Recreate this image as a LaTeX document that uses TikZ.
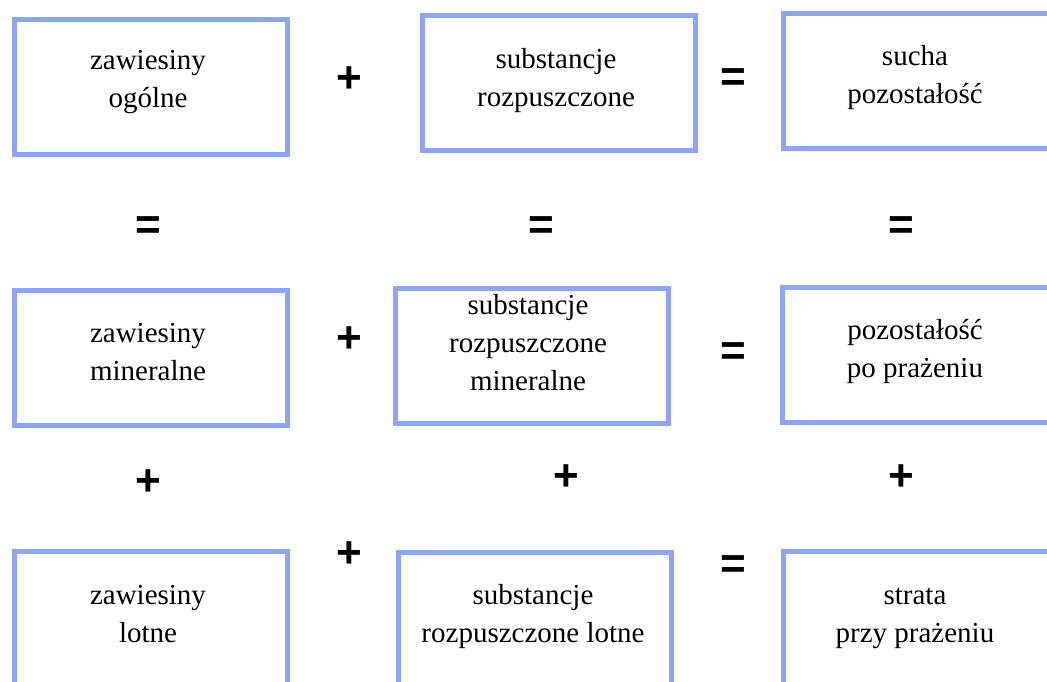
\documentclass[tikz,border=0pt]{standalone}
\usepackage{fontspec}
\setmainfont{Liberation Serif}
\newfontfamily\opfont{Liberation Sans}
\definecolor{ramka}{RGB}{140,165,245}
\tikzset{
  ramka/.style={draw=ramka, line width=5pt, anchor=north west, inner sep=0pt,
                minimum width=273pt, minimum height=135pt},
  opis/.style={align=center, anchor=base, inner sep=0pt,
               font=\fontsize{29}{38}\selectfont},
  znak/.style={inner sep=0pt, font=\opfont\bfseries\fontsize{44}{44}\selectfont}
}
\begin{document}
\begin{tikzpicture}[x=1pt, y=-1pt]
    \useasboundingbox (0,0) rectangle (1047,681);
    \clip (0,0) rectangle (1047,681);

    % frames
    \node [ramka] (zo)  at ( 11.5,  16.5) {};
    \node [ramka] (sr)  at (419.5,  12.5) {};
    \node [ramka] (sp)  at (780.5,  10.5) {};
    \node [ramka] (zm)  at ( 11.5, 287.5) {};
    \node [ramka] (srm) at (392.5, 285.5) {};
    \node [ramka] (pp)  at (779.5, 284.5) {};
    \node [ramka] (zl)  at ( 11.5, 548.5) {};
    \node [ramka] (srl) at (395.5, 549.5) {};
    \node [ramka] (spp) at (780.5, 548.5) {};

    % texts (anchored at the baseline of the last line)
    \node [opis] (zoT)  at (148, 107) {zawiesiny\\ogólne};
    \node [opis] (srT)  at (556, 106) {substancje\\rozpuszczone};
    \node [opis] (spT)  at (915, 103) {sucha\\pozostałość};
    \node [opis] (zmT)  at (148, 380) {zawiesiny\\mineralne};
    \node [opis] (srmT) at (528, 390) {substancje\\rozpuszczone\\mineralne};
    \node [opis] (ppT)  at (915, 377) {pozostałość\\po prażeniu};
    \node [opis] (zlT)  at (148, 642) {zawiesiny\\lotne};
    \node [opis] (srlT) at (533, 642) {substancje\\rozpuszczone lotne};
    \node [opis] (sppT) at (915, 642) {strata\\przy prażeniu};

    % signs between the frames
    \node [znak] (p1) at (349,  80) {+};
    \node [znak] (r1) at (733,  80) {=};
    \node [znak] (r2) at (148, 228) {=};
    \node [znak] (r3) at (541, 228) {=};
    \node [znak] (r4) at (901, 228) {=};
    \node [znak] (p2) at (349, 340) {+};
    \node [znak] (r5) at (733, 354) {=};
    \node [znak] (p3) at (148, 483) {+};
    \node [znak] (p4) at (566, 478) {+};
    \node [znak] (p5) at (901, 478) {+};
    \node [znak] (p6) at (349, 555) {+};
    \node [znak] (r6) at (733, 567) {=};
\end{tikzpicture}
\end{document}
